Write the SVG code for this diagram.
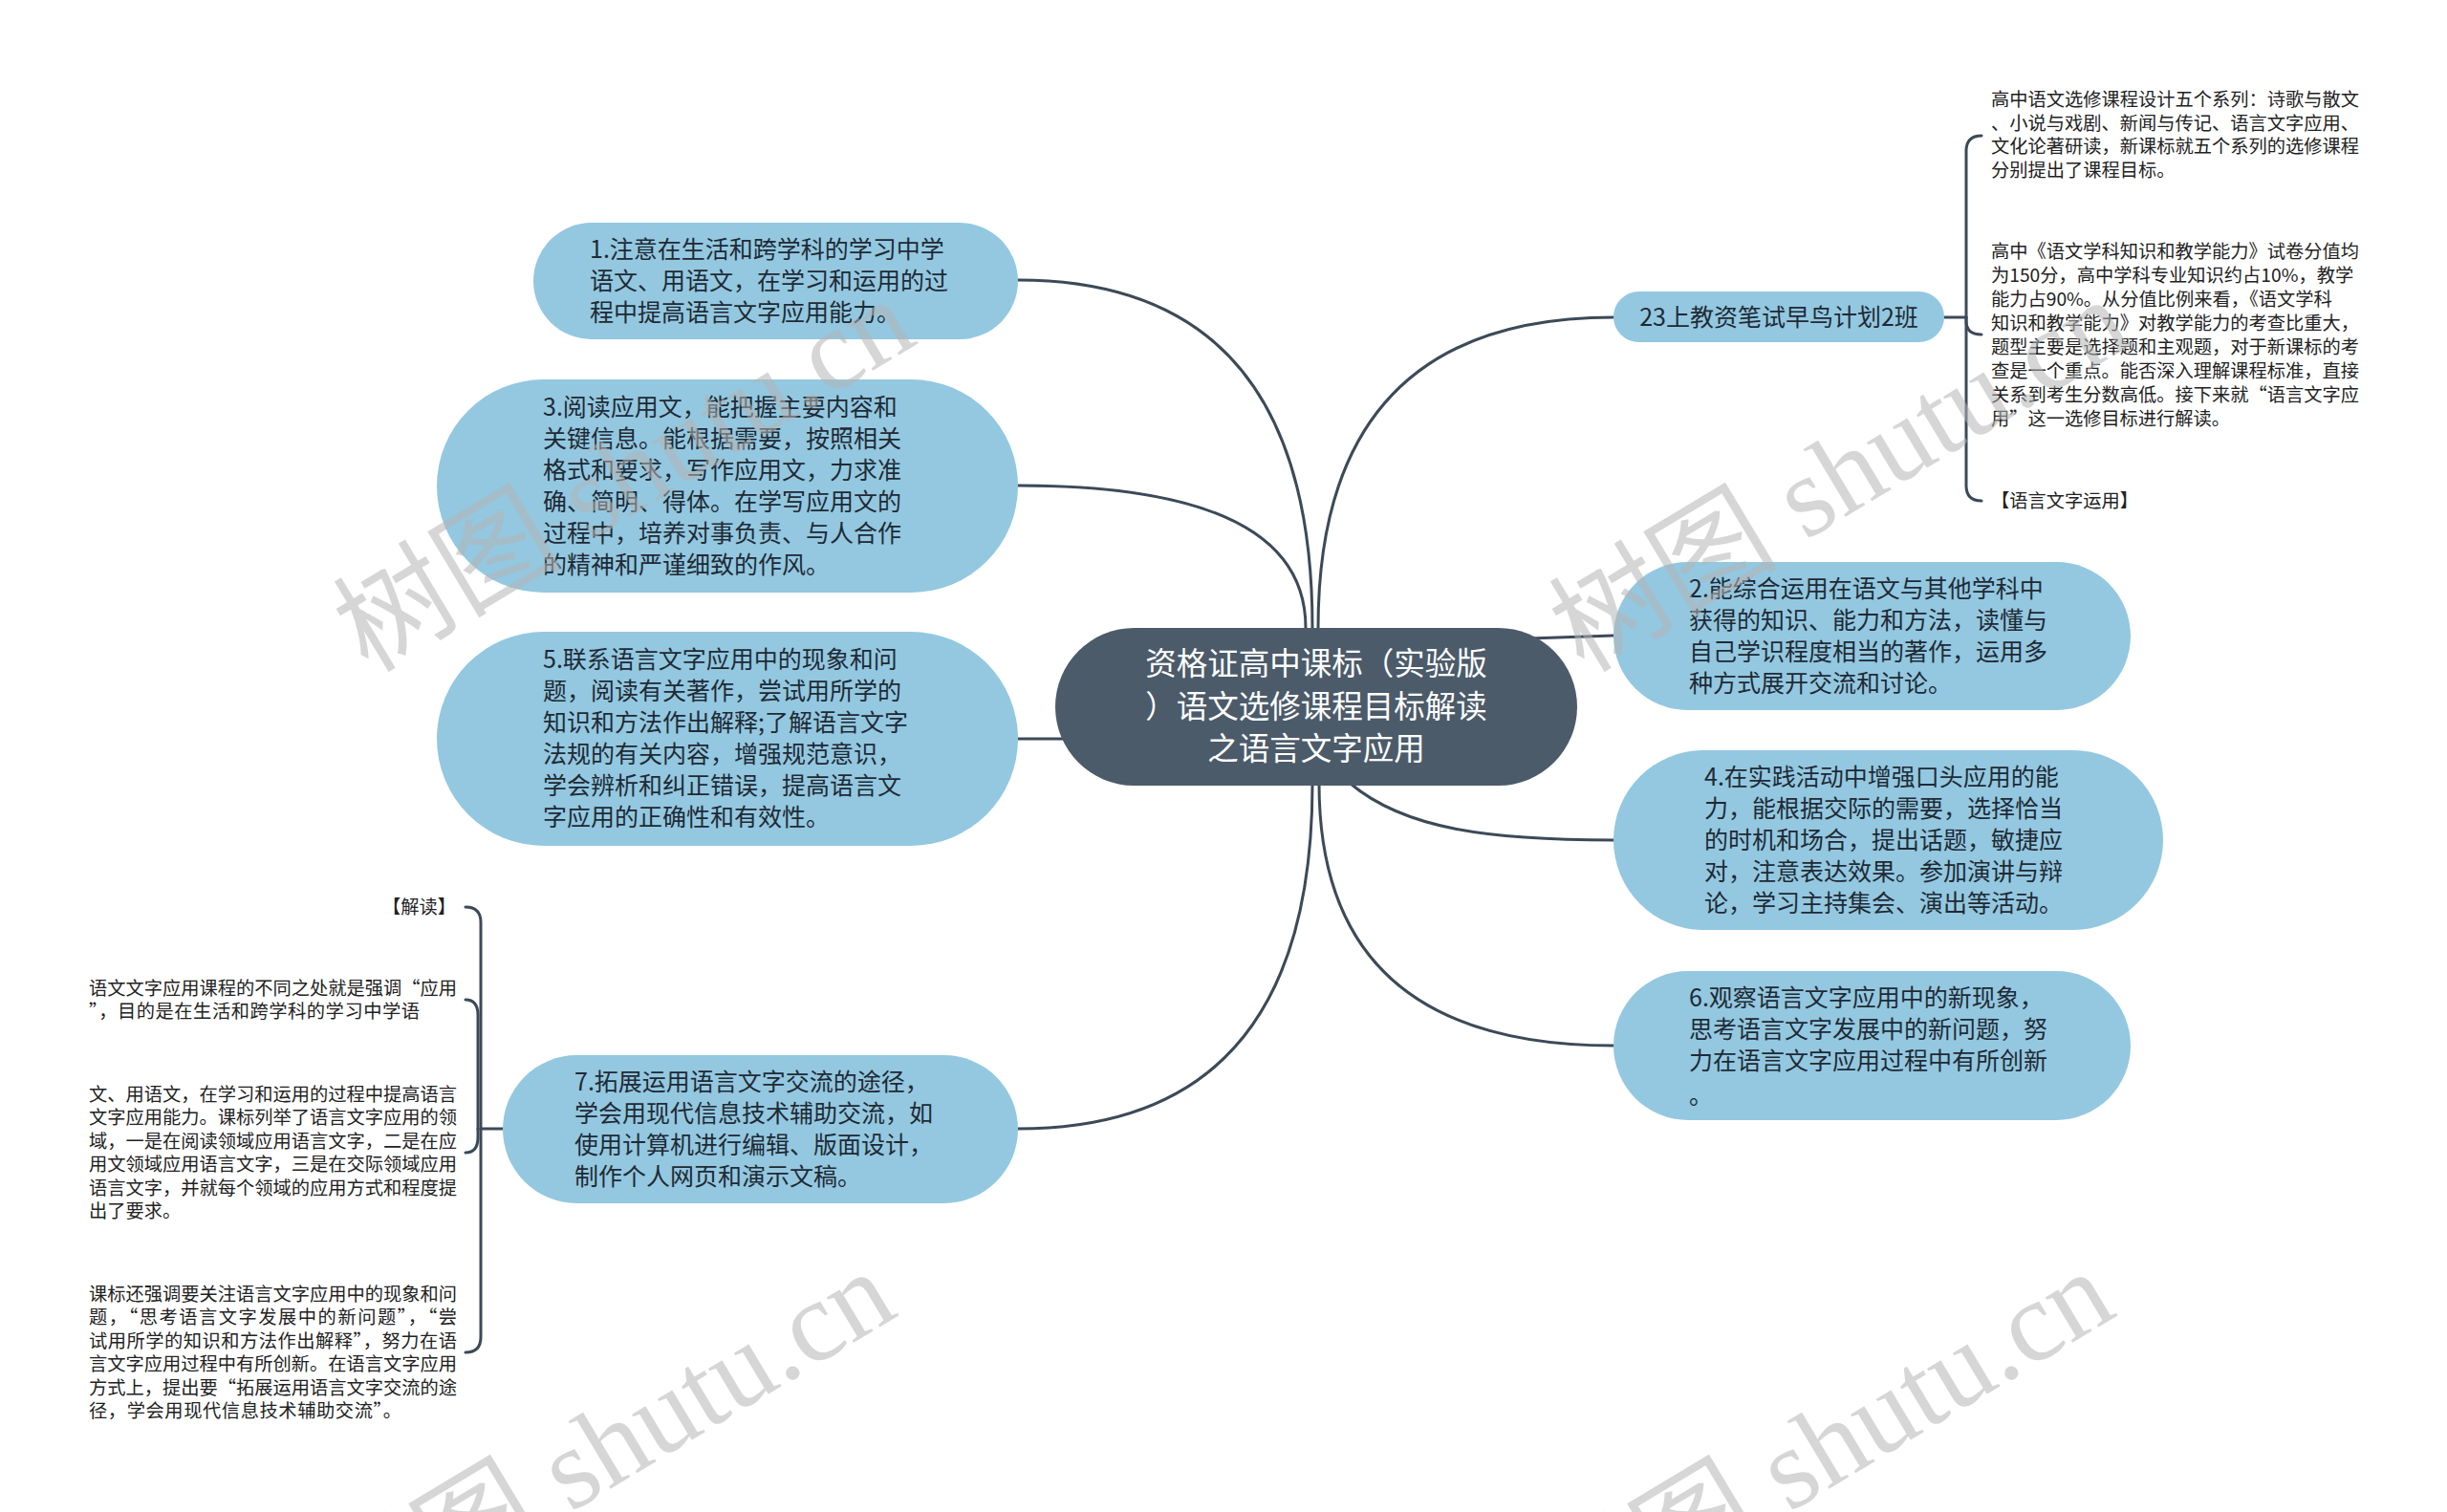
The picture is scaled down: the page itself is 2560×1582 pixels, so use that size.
<svg xmlns="http://www.w3.org/2000/svg" width="2560" height="1582" viewBox="0 0 2560 1582">
<style>
.bg{fill:#ffffff}
.conn{fill:none;stroke:#3c4a58;stroke-width:3;stroke-linecap:round}
.blue{fill:#93c8e0}
.root{fill:#4c5b6a}
.t{font-family:"Noto Sans CJK SC","Noto Sans",sans-serif;font-size:25px;fill:#1f2a35}
.rt{font-family:"Noto Sans CJK SC","Noto Sans",sans-serif;font-size:32.5px;fill:#ffffff;text-anchor:middle}
.s{font-family:"Noto Sans CJK SC","Noto Sans",sans-serif;font-size:19.25px;fill:#222222}
.wm{font-family:"Liberation Serif","Noto Sans CJK SC",serif;font-size:120px;fill:#b4b4b4;fill-opacity:0.55}
</style>
<rect class="bg" x="0" y="0" width="2560" height="1582"/>

<g id="connectors">
  <path class="conn" d="M1373,657 Q1373,293 1065,293"/>
  <path class="conn" d="M1366,657 Q1366,508 1065,508"/>
  <path class="conn" d="M1065,773 L1130,773"/>
  <path class="conn" d="M1373,820 Q1373,1181 1065,1181"/>
  <path class="conn" d="M1379,657 Q1379,332 1688,332"/>
  <path class="conn" d="M1600,668 L1688,665"/>
  <path class="conn" d="M1413,820 C1470,868 1560,879 1688,879"/>
  <path class="conn" d="M1380,820 Q1380,1094 1688,1094"/>
  <!-- right brace -->
  <path class="conn" d="M2034,332 H2057"/>
  <path class="conn" d="M2057,332 V158 Q2057,142 2073,142"/>
  <path class="conn" d="M2057,332 V336 Q2057,350 2073,350"/>
  <path class="conn" d="M2057,332 V508 Q2057,524 2073,524"/>
  <!-- left brace -->
  <path class="conn" d="M526,1181 H503"/>
  <path class="conn" d="M503,1181 V965 Q503,949 487,949"/>
  <path class="conn" d="M500,1181 V1062 Q500,1046 487,1046"/>
  <path class="conn" d="M500,1181 V1190 Q500,1206 487,1206"/>
  <path class="conn" d="M503,1181 V1399 Q503,1415 487,1415"/>
</g>

<g id="root">
  <rect class="root" x="1104" y="657" width="546" height="165" rx="82.5"/>
  <text class="rt" x="1377" y="706">资格证高中课标（实验版</text>
  <text class="rt" x="1377" y="751">）语文选修课程目标解读</text>
  <text class="rt" x="1377" y="795">之语言文字应用</text>
</g>

<g id="node1">
  <rect class="blue" x="558" y="233" width="507" height="122" rx="61"/>
  <text class="t" x="617" y="270">1.注意在生活和跨学科的学习中学</text>
  <text class="t" x="617" y="303">语文、用语文，在学习和运用的过</text>
  <text class="t" x="617" y="336">程中提高语言文字应用能力。</text>
</g>

<g id="node3">
  <rect class="blue" x="457" y="397" width="608" height="223" rx="111.5"/>
  <text class="t" x="568" y="435">3.阅读应用文，能把握主要内容和</text>
  <text class="t" x="568" y="468">关键信息。能根据需要，按照相关</text>
  <text class="t" x="568" y="501">格式和要求，写作应用文，力求准</text>
  <text class="t" x="568" y="534">确、简明、得体。在学写应用文的</text>
  <text class="t" x="568" y="567">过程中，培养对事负责、与人合作</text>
  <text class="t" x="568" y="600">的精神和严谨细致的作风。</text>
</g>

<g id="node5">
  <rect class="blue" x="457" y="661" width="608" height="224" rx="112"/>
  <text class="t" x="568" y="699">5.联系语言文字应用中的现象和问</text>
  <text class="t" x="568" y="732">题，阅读有关著作，尝试用所学的</text>
  <text class="t" x="568" y="765">知识和方法作出解释;了解语言文字</text>
  <text class="t" x="568" y="798">法规的有关内容，增强规范意识，</text>
  <text class="t" x="568" y="831">学会辨析和纠正错误，提高语言文</text>
  <text class="t" x="568" y="864">字应用的正确性和有效性。</text>
</g>

<g id="node7">
  <rect class="blue" x="526" y="1104" width="539" height="155" rx="77.5"/>
  <text class="t" x="601" y="1141">7.拓展运用语言文字交流的途径，</text>
  <text class="t" x="601" y="1174">学会用现代信息技术辅助交流，如</text>
  <text class="t" x="601" y="1207">使用计算机进行编辑、版面设计，</text>
  <text class="t" x="601" y="1240">制作个人网页和演示文稿。</text>
</g>

<g id="node23">
  <rect class="blue" x="1688" y="305" width="346" height="53" rx="26.5"/>
  <text class="t" x="1861" y="341" text-anchor="middle">23上教资笔试早鸟计划2班</text>
</g>

<g id="node2">
  <rect class="blue" x="1688" y="588" width="541" height="155" rx="77.5"/>
  <text class="t" x="1767" y="625">2.能综合运用在语文与其他学科中</text>
  <text class="t" x="1767" y="658">获得的知识、能力和方法，读懂与</text>
  <text class="t" x="1767" y="691">自己学识程度相当的著作，运用多</text>
  <text class="t" x="1767" y="724">种方式展开交流和讨论。</text>
</g>

<g id="node4">
  <rect class="blue" x="1688" y="785" width="575" height="188" rx="94"/>
  <text class="t" x="1783" y="822">4.在实践活动中增强口头应用的能</text>
  <text class="t" x="1783" y="855">力，能根据交际的需要，选择恰当</text>
  <text class="t" x="1783" y="888">的时机和场合，提出话题，敏捷应</text>
  <text class="t" x="1783" y="921">对，注意表达效果。参加演讲与辩</text>
  <text class="t" x="1783" y="954">论，学习主持集会、演出等活动。</text>
</g>

<g id="node6">
  <rect class="blue" x="1688" y="1016" width="541" height="156" rx="78"/>
  <text class="t" x="1767" y="1053">6.观察语言文字应用中的新现象，</text>
  <text class="t" x="1767" y="1086">思考语言文字发展中的新问题，努</text>
  <text class="t" x="1767" y="1119">力在语言文字应用过程中有所创新</text>
  <text class="t" x="1767" y="1155">。</text>
</g>

<g id="r-detail1">
  <text class="s" x="2083" y="111">高中语文选修课程设计五个系列：诗歌与散文</text>
  <text class="s" x="2083" y="136">、小说与戏剧、新闻与传记、语言文字应用、</text>
  <text class="s" x="2083" y="160">文化论著研读，新课标就五个系列的选修课程</text>
  <text class="s" x="2083" y="185">分别提出了课程目标。</text>
</g>
<g id="r-detail2">
  <text class="s" x="2083" y="270">高中《语文学科知识和教学能力》试卷分值均</text>
  <text class="s" x="2083" y="295">为150分，高中学科专业知识约占10%，教学</text>
  <text class="s" x="2083" y="320">能力占90%。从分值比例来看，《语文学科</text>
  <text class="s" x="2083" y="345">知识和教学能力》对教学能力的考查比重大，</text>
  <text class="s" x="2083" y="370">题型主要是选择题和主观题，对于新课标的考</text>
  <text class="s" x="2083" y="395">查是一个重点。能否深入理解课程标准，直接</text>
  <text class="s" x="2083" y="420" textLength="385" lengthAdjust="spacing">关系到考生分数高低。接下来就“语言文字应</text>
  <text class="s" x="2083" y="445" textLength="250" lengthAdjust="spacing">用”这一选修目标进行解读。</text>
</g>
<g id="r-detail3">
  <text class="s" x="2083" y="531">【语言文字运用】</text>
</g>

<g id="l-detail1">
  <text class="s" x="477" y="956" text-anchor="end">【解读】</text>
</g>
<g id="l-detail2">
  <text class="s" x="93" y="1041" textLength="385" lengthAdjust="spacing">语文文字应用课程的不同之处就是强调“应用</text>
  <text class="s" x="93" y="1065" textLength="346" lengthAdjust="spacing">”，目的是在生活和跨学科的学习中学语</text>
</g>
<g id="l-detail3">
  <text class="s" x="93" y="1152">文、用语文，在学习和运用的过程中提高语言</text>
  <text class="s" x="93" y="1176">文字应用能力。课标列举了语言文字应用的领</text>
  <text class="s" x="93" y="1201">域，一是在阅读领域应用语言文字，二是在应</text>
  <text class="s" x="93" y="1225">用文领域应用语言文字，三是在交际领域应用</text>
  <text class="s" x="93" y="1250">语言文字，并就每个领域的应用方式和程度提</text>
  <text class="s" x="93" y="1274">出了要求。</text>
</g>
<g id="l-detail4">
  <text class="s" x="93" y="1361">课标还强调要关注语言文字应用中的现象和问</text>
  <text class="s" x="93" y="1385" textLength="385" lengthAdjust="spacing">题，“思考语言文字发展中的新问题”，“尝</text>
  <text class="s" x="93" y="1410" textLength="385" lengthAdjust="spacing">试用所学的知识和方法作出解释”，努力在语</text>
  <text class="s" x="93" y="1434">言文字应用过程中有所创新。在语言文字应用</text>
  <text class="s" x="93" y="1459" textLength="385" lengthAdjust="spacing">方式上，提出要“拓展运用语言文字交流的途</text>
  <text class="s" x="93" y="1483" textLength="327" lengthAdjust="spacing">径，学会用现代信息技术辅助交流”。</text>
</g>

<g id="watermarks">
  <text class="wm" transform="translate(385,705) rotate(-31)">树图 shutu.cn</text>
  <text class="wm" transform="translate(1657,705) rotate(-31)">树图 shutu.cn</text>
  <text class="wm" transform="translate(365,1722) rotate(-31)">树图 shutu.cn</text>
  <text class="wm" transform="translate(1640,1722) rotate(-31)">树图 shutu.cn</text>
</g>
</svg>
